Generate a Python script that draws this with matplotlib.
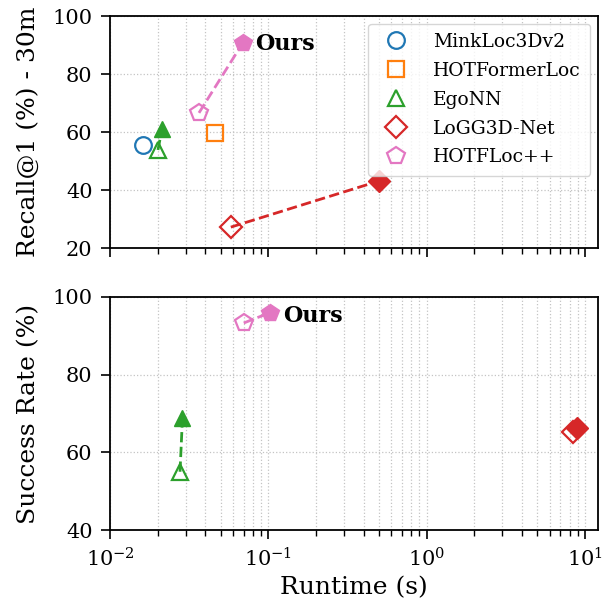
import matplotlib
matplotlib.use("Agg")
import matplotlib.pyplot as plt

plt.rcParams['font.family'] = ['DejaVu Serif']
plt.rcParams['mathtext.fontset'] = 'dejavuserif'

methods = ["MinkLoc3Dv2", "HOTFormerLoc", "EgoNN", "LoGG3D-Net", "HOTFLoc++"]
colors = ["#1f77b4", "#ff7f0e", "#2ca02c", "#d62728", "#e377c2"]
markers = ["o", "s", "^", "D", "p"]

# Top: Recall@1 (%) - 30m  (baseline open, improved filled)
top_rt_base = [0.0161, 0.046, 0.0201, 0.058, 0.0365]
top_rec_base = [55.5, 59.7, 53.8, 27.2, 66.6]
top_rt_ours = [None, None, 0.0213, 0.50, 0.069]
top_rec_ours = [None, None, 61.0, 43.1, 90.7]

# Bottom: Success Rate (%)
bot_methods = ["EgoNN", "LoGG3D-Net", "HOTFLoc++"]
bot_rt_base = [0.0277, 8.4, 0.070]
bot_sr_base = [55.0, 65.2, 93.3]
bot_rt_ours = [0.0287, 8.9, 0.103]
bot_sr_ours = [68.8, 66.3, 96.0]

fig = plt.figure(figsize=(6.13, 6.04), dpi=100)
ax1 = fig.add_axes([0.1794, 0.5894, 0.7961, 0.3841])
ax2 = fig.add_axes([0.1794, 0.1225, 0.7961, 0.3858])

sizes = {"o": 12, "s": 12, "^": 12, "D": 11, "p": 13}
for i, m in enumerate(methods):
    c = colors[i]
    mk = markers[i]
    if top_rt_ours[i] is not None:
        ax1.plot([top_rt_base[i], top_rt_ours[i]], [top_rec_base[i], top_rec_ours[i]],
                 '--', color=c, lw=2, zorder=2)
        ax1.plot(top_rt_ours[i], top_rec_ours[i], marker=mk, ms=sizes[mk], color=c,
                 mfc=c, mec=c, ls='none', zorder=3)
    ax1.plot(top_rt_base[i], top_rec_base[i], marker=mk, ms=sizes[mk],
             color=c, mfc='none', mec=c, mew=1.6, ls='none', zorder=3, label=m)

for j, m in enumerate(bot_methods):
    i = methods.index(m)
    c = colors[i]
    mk = markers[i]
    ax2.plot([bot_rt_base[j], bot_rt_ours[j]], [bot_sr_base[j], bot_sr_ours[j]],
             '--', color=c, lw=2, zorder=2)
    ax2.plot(bot_rt_ours[j], bot_sr_ours[j], marker=mk, ms=sizes[mk], color=c,
             mfc=c, mec=c, ls='none', zorder=3)
    ax2.plot(bot_rt_base[j], bot_sr_base[j], marker=mk, ms=sizes[mk],
             color=c, mfc='none', mec=c, mew=1.6, ls='none', zorder=3)

ax1.text(0.083, 90.3, "Ours", fontsize=16, fontweight='bold', va='center', ha='left')
ax2.text(0.124, 95.1, "Ours", fontsize=16, fontweight='bold', va='center', ha='left')

for ax in (ax1, ax2):
    ax.set_xscale('log')
    ax.set_xlim(0.01, 12.1)
    ax.grid(True, which='both', axis='x', ls=':', color='#c4c4c4', lw=0.9)
    ax.grid(True, which='major', axis='y', ls=':', color='#c4c4c4', lw=0.9)
    ax.tick_params(axis='both', which='major', labelsize=15, length=6.5, width=1.2, pad=6)
    ax.tick_params(axis='x', which='minor', length=4, width=1)
    for s in ax.spines.values():
        s.set_linewidth(1.3)

ax1.set_ylim(20, 100)
ax1.set_yticks([20, 40, 60, 80, 100])
ax1.tick_params(axis='x', labelbottom=False)
ax1.set_ylabel("Recall@1 (%) - 30m", fontsize=18, labelpad=9)

ax2.set_ylim(40, 100)
ax2.set_yticks([40, 60, 80, 100])
ax2.set_ylabel("Success Rate (%)", fontsize=18, labelpad=9)
ax2.set_xlabel("Runtime (s)", fontsize=18, labelpad=4)

ax1.legend(loc='upper right', fontsize=13.5, framealpha=0.8, borderpad=0.5,
           handletextpad=1.0, labelspacing=0.58, fancybox=True, borderaxespad=0.4)

fig.savefig("out.png", dpi=100)
